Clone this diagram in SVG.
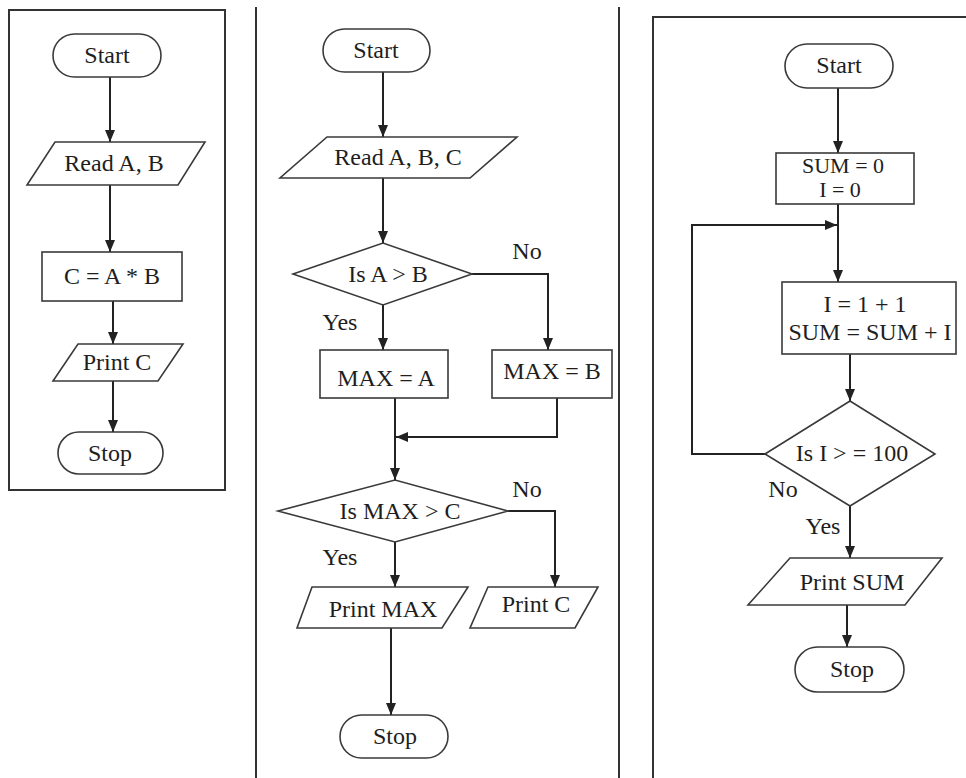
<svg xmlns="http://www.w3.org/2000/svg" width="966" height="778" viewBox="0 0 966 778">
<style>
  .shape { fill: #ffffff; stroke: #3a3a3a; stroke-width: 1.6; }
  .conn { fill: none; stroke: #222222; stroke-width: 2; }
  .frame { fill: none; stroke: #333333; stroke-width: 2; }
  text { font-family: "Liberation Serif", "Times New Roman", serif; font-size: 24px; fill: #1e1e1e; text-anchor: middle; }
  .tight { font-size: 22px; }
</style>
<defs>
  <marker id="arr" viewBox="0 0 12 10" refX="12" refY="5" markerWidth="12" markerHeight="10" markerUnits="userSpaceOnUse" orient="auto">
    <path d="M0,0 L12,5 L0,10 z" fill="#222222"/>
  </marker>
</defs>
<rect width="966" height="778" fill="#ffffff"/>
<g id="frames">
  <rect class="frame" x="9" y="10" width="216" height="480"/>
  <line class="frame" x1="256" y1="7" x2="256" y2="778"/>
  <line class="frame" x1="619" y1="7" x2="619" y2="778"/>
  <path class="frame" d="M653,778 V17 H966"/>
</g>
<g id="connectors">
  <line class="conn" x1="110" y1="77" x2="110" y2="142" marker-end="url(#arr)"/>
  <line class="conn" x1="110" y1="185" x2="110" y2="252" marker-end="url(#arr)"/>
  <line class="conn" x1="113" y1="301" x2="113" y2="344" marker-end="url(#arr)"/>
  <line class="conn" x1="113" y1="381" x2="113" y2="432" marker-end="url(#arr)"/>

  <line class="conn" x1="383" y1="72" x2="383" y2="137" marker-end="url(#arr)"/>
  <line class="conn" x1="383" y1="178" x2="383" y2="243" marker-end="url(#arr)"/>
  <polyline class="conn" points="472,274 548,274 548,350" marker-end="url(#arr)"/>
  <line class="conn" x1="383" y1="305" x2="383" y2="350" marker-end="url(#arr)"/>
  <line class="conn" x1="395" y1="398" x2="395" y2="480" marker-end="url(#arr)"/>
  <polyline class="conn" points="557,398 557,437 396,437" marker-end="url(#arr)"/>
  <polyline class="conn" points="508,511 555,511 555,587" marker-end="url(#arr)"/>
  <line class="conn" x1="395" y1="542" x2="395" y2="587" marker-end="url(#arr)"/>
  <line class="conn" x1="391" y1="628" x2="391" y2="715" marker-end="url(#arr)"/>

  <line class="conn" x1="838" y1="88" x2="838" y2="153" marker-end="url(#arr)"/>
  <line class="conn" x1="838" y1="204" x2="838" y2="282" marker-end="url(#arr)"/>
  <polyline class="conn" points="765,454 692,454 692,225 837,225" marker-end="url(#arr)"/>
  <line class="conn" x1="850" y1="354" x2="850" y2="401" marker-end="url(#arr)"/>
  <line class="conn" x1="850" y1="506" x2="850" y2="558" marker-end="url(#arr)"/>
  <line class="conn" x1="847" y1="605" x2="847" y2="647" marker-end="url(#arr)"/>
</g>
<g id="p1-start"><rect class="shape" x="53" y="34" width="108" height="43" rx="21.5"/><text x="107" y="63">Start</text></g>
<g id="p1-read"><polygon class="shape" points="55,142 205,142 178,185 27,185"/><text x="114" y="171">Read A, B</text></g>
<g id="p1-calc"><rect class="shape" x="42" y="252" width="140" height="49"/><text x="112" y="284">C = A * B</text></g>
<g id="p1-print"><polygon class="shape" points="78,344 183,344 158,381 53,381"/><text x="117" y="370">Print C</text></g>
<g id="p1-stop"><rect class="shape" x="58" y="432" width="105" height="42" rx="21"/><text x="110" y="461">Stop</text></g>

<g id="p2-start"><rect class="shape" x="323" y="29" width="107" height="43" rx="21.5"/><text x="376" y="58">Start</text></g>
<g id="p2-read"><polygon class="shape" points="327,137 517,137 470,178 280,178"/><text x="398" y="165">Read A, B, C</text></g>
<g id="p2-dec1"><polygon class="shape" points="293,274 383,243 472,274 383,305"/><text x="388" y="282">Is A &gt; B</text></g>
<g id="p2-maxa"><rect class="shape" x="320" y="350" width="128" height="48"/><text x="386" y="386">MAX = A</text></g>
<g id="p2-maxb"><rect class="shape" x="492" y="350" width="120" height="48"/><text x="552" y="379">MAX = B</text></g>
<g id="p2-dec2"><polygon class="shape" points="278,511 395,480 508,511 395,542"/><text x="400" y="519">Is MAX &gt; C</text></g>
<g id="p2-printmax"><polygon class="shape" points="312,587 468,587 442,628 297,628"/><text x="383" y="617">Print MAX</text></g>
<g id="p2-printc"><polygon class="shape" points="488,587 598,587 575,628 470,628"/><text x="536" y="612">Print C</text></g>
<g id="p2-stop"><rect class="shape" x="340" y="715" width="108" height="43" rx="21.5"/><text x="395" y="744">Stop</text></g>
<g id="p2-labels">
  <text x="527" y="259">No</text>
  <text x="340" y="330">Yes</text>
  <text x="527" y="497">No</text>
  <text x="340" y="565">Yes</text>
</g>

<g id="p3-start"><rect class="shape" x="785" y="44" width="108" height="44" rx="22"/><text x="839" y="73">Start</text></g>
<g id="p3-init"><rect class="shape" x="776" y="153" width="138" height="51"/><text class="tight" x="843" y="173">SUM = 0</text><text class="tight" x="840" y="197">I = 0</text></g>
<g id="p3-update"><rect class="shape" x="782" y="282" width="174" height="72"/><text x="865" y="312">I = 1 + 1</text><text x="870" y="340">SUM = SUM + I</text></g>
<g id="p3-dec"><polygon class="shape" points="765,454 850,401 935,454 850,506"/><text x="852" y="461">Is I &gt; = 100</text></g>
<g id="p3-print"><polygon class="shape" points="790,558 942,558 905,605 748,605"/><text x="852" y="590">Print SUM</text></g>
<g id="p3-stop"><rect class="shape" x="795" y="647" width="109" height="45" rx="22.5"/><text x="852" y="677">Stop</text></g>
<g id="p3-labels">
  <text x="783" y="497">No</text>
  <text x="823" y="534">Yes</text>
</g>
</svg>
